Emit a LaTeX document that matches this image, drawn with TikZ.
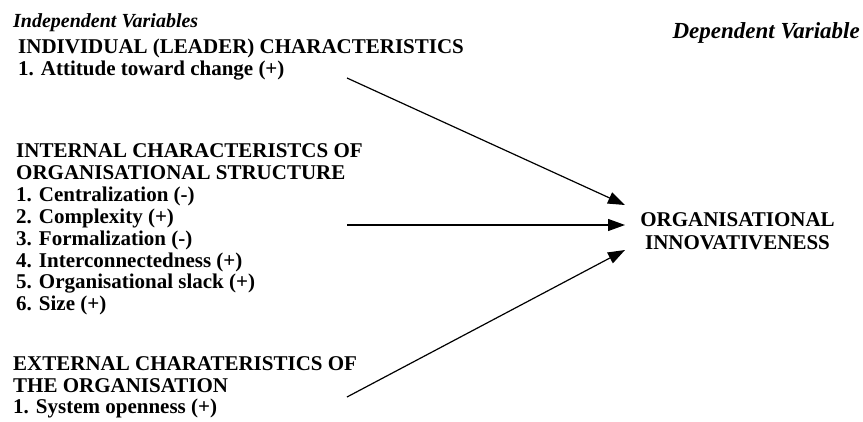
\documentclass[tikz,border=0pt]{standalone}
\usepackage{fontspec}
\setmainfont{Liberation Serif}
\usetikzlibrary{arrows.meta}
\begin{document}
\begin{tikzpicture}[x=1pt,y=-1pt,
  lbl/.style={anchor=base west, inner sep=0pt, font=\fontsize{21}{22}\selectfont\bfseries},
  hdr/.style={inner sep=0pt, font=\fontsize{20}{22}\selectfont\bfseries\itshape},
  outcome/.style={inner sep=0pt, align=center, font=\fontsize{21}{22.5}\selectfont\bfseries},
  link/.style={line width=1.2pt, -{Triangle[length=17pt,width=12pt]}}
]
\useasboundingbox (0,0) rectangle (863,421);

% column headings
\node[hdr, anchor=base west] (indep) at (13,27) {Independent Variables};
\node[hdr, anchor=base east, font=\fontsize{23}{24}\selectfont\bfseries\itshape] (dep) at (860,38) {Dependent Variable};

% individual (leader) characteristics
\node[lbl] (ind) at (18,53) {INDIVIDUAL (LEADER) CHARACTERISTICS};
\node[lbl] (ind1) at (18,75) {1. Attitude toward change (+)};

% internal characteristics of the structure
\node[lbl] (int) at (16,157) {INTERNAL CHARACTERISTCS OF};
\node[lbl] (intb) at (16,179) {ORGANISATIONAL STRUCTURE};
\node[lbl] (int1) at (16,201) {1. Centralization (-)};
\node[lbl] (int2) at (16,223) {2. Complexity (+)};
\node[lbl] (int3) at (16,245) {3. Formalization (-)};
\node[lbl] (int4) at (16,267) {4. Interconnectedness (+)};
\node[lbl] (int5) at (16,288) {5. Organisational slack (+)};
\node[lbl] (int6) at (16,310) {6. Size (+)};

% external characteristics
\node[lbl] (ext) at (13,370) {EXTERNAL CHARATERISTICS OF};
\node[lbl] (extb) at (13,392) {THE ORGANISATION};
\node[lbl] (ext1) at (13,413) {1. System openness (+)};

% dependent variable
\node[outcome] (dv) at (737.5,231) {ORGANISATIONAL\\INNOVATIVENESS};

% arrow ends
\coordinate (sA) at (347,78);
\coordinate (sB) at (347,225);
\coordinate (sC) at (347,397);
\coordinate (tA) at (625,205);
\coordinate (tB) at (625,225);
\coordinate (tC) at (625,250);

\draw[link] (sA) -- (tA);
\draw[link] (sB) -- (tB);
\draw[link] (sC) -- (tC);
\end{tikzpicture}
\end{document}
